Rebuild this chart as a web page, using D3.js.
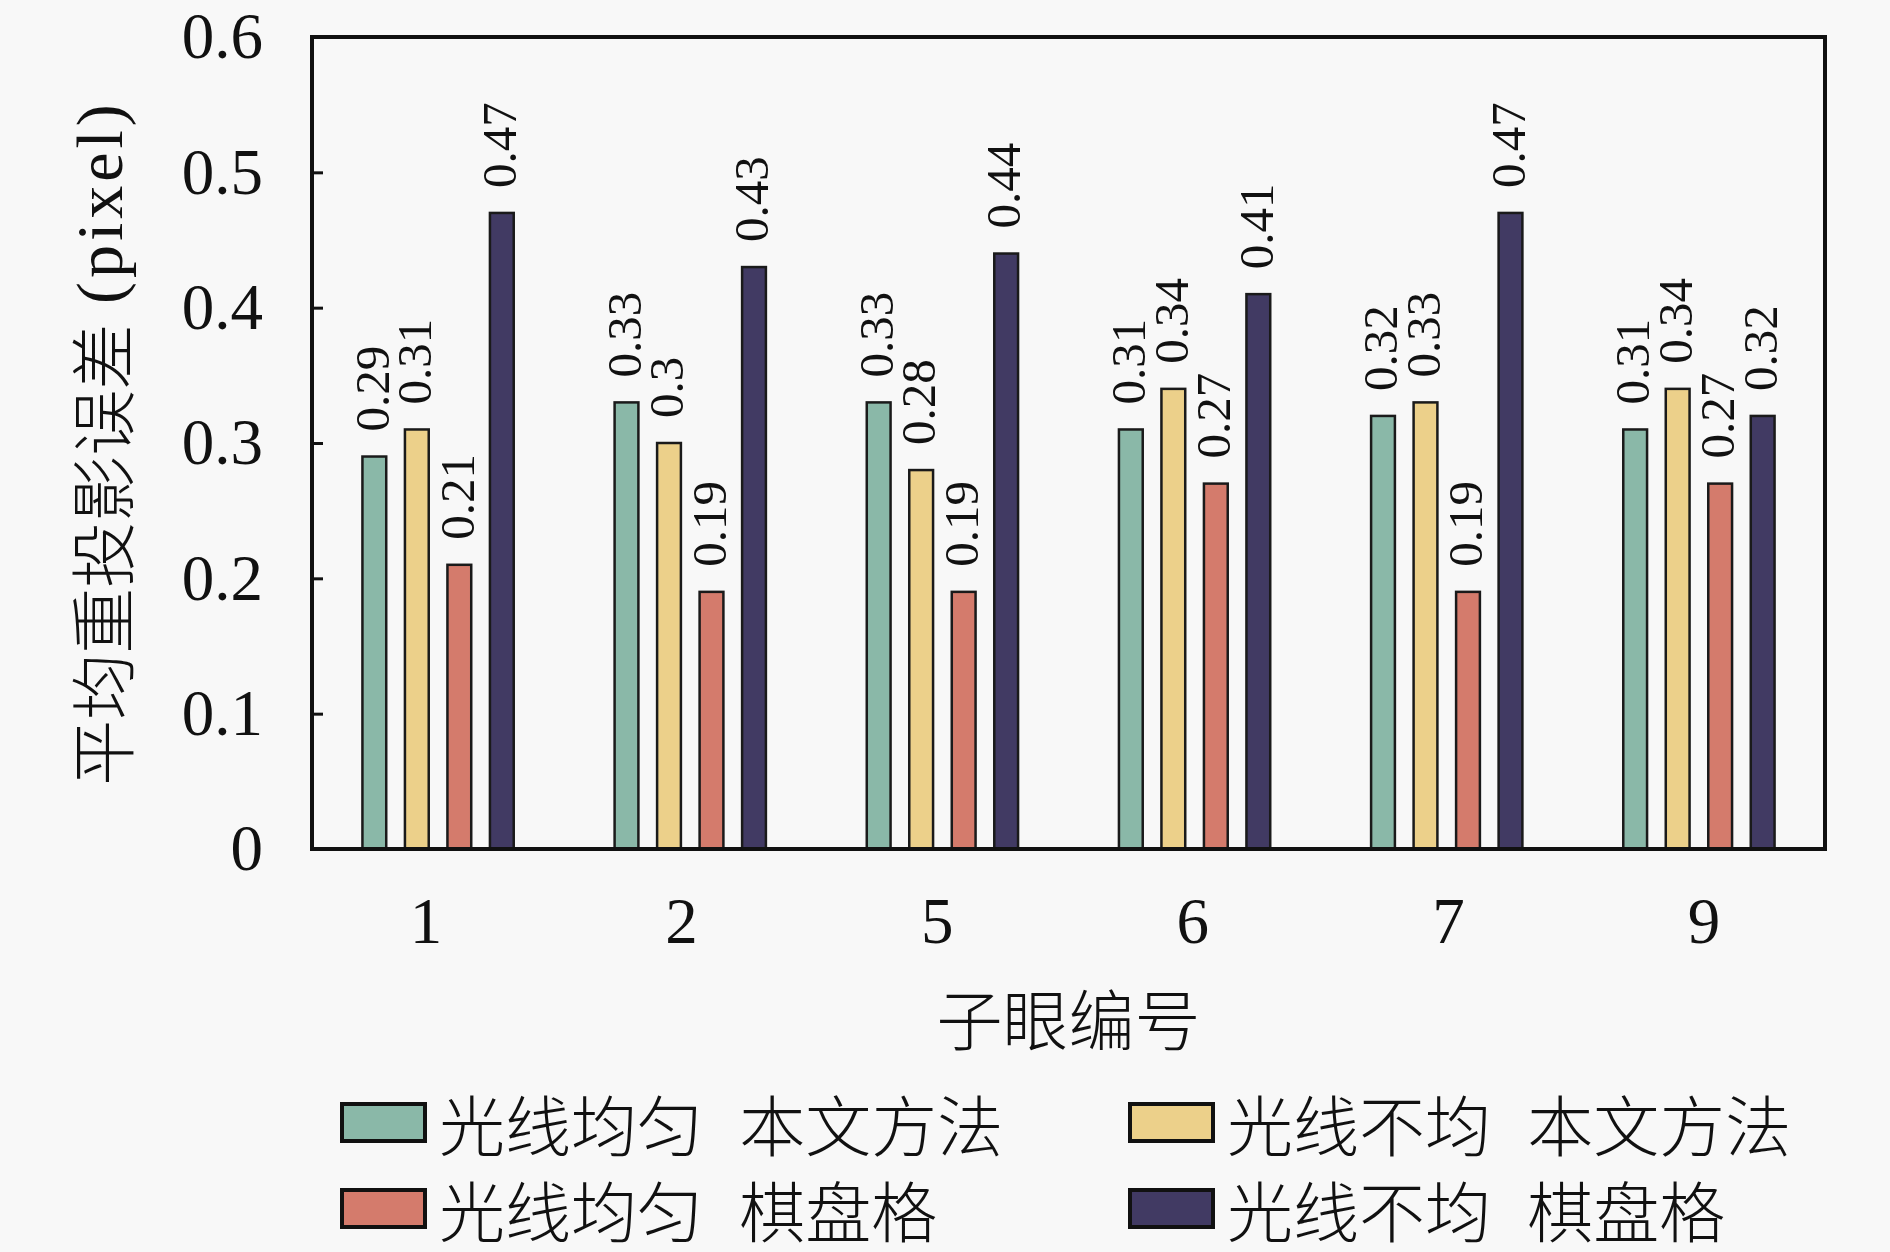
<!DOCTYPE html>
<html>
<head>
<meta charset="utf-8">
<script src="https://cdn.jsdelivr.net/npm/d3@7"></script>
<style>
  body { margin: 0; background: #f8f8f8; }
  svg { display: block; }
  text { font-family: "Liberation Serif", "Noto Sans CJK SC", serif; fill: #111; }
  .cjk { font-family: "Noto Sans CJK SC", "Liberation Serif", sans-serif; font-weight: 300; }
</style>
</head>
<body>
<script>
// sub-eye ids on the x axis
const subEyes = ["1", "2", "5", "6", "7", "9"];

// series names (legend) and bar colours
const seriesNames = ["光线均匀 本文方法", "光线不均 本文方法", "光线均匀 棋盘格", "光线不均 棋盘格"];
const seriesColors = ["#8ab8a8", "#ecd08a", "#d47b6c", "#413a63"];

// mean reprojection error per sub-eye (pixel)
const uniformOurs = [0.29, 0.33, 0.33, 0.31, 0.32, 0.31];
const nonUniformOurs = [0.31, 0.30, 0.28, 0.34, 0.33, 0.34];
const uniformBoard = [0.21, 0.19, 0.19, 0.27, 0.19, 0.27];
const nonUniformBoard = [0.47, 0.43, 0.44, 0.41, 0.47, 0.32];

const yTicks = [0, 0.1, 0.2, 0.3, 0.4, 0.5, 0.6];

const seriesValues = [uniformOurs, nonUniformOurs, uniformBoard, nonUniformBoard];

const width = 1890, height = 1252;
const plot = { left: 312, right: 1825, top: 37, bottom: 849 };

const svg = d3.select("body").append("svg")
    .attr("width", width)
    .attr("height", height);

svg.append("rect")
    .attr("width", width)
    .attr("height", height)
    .attr("fill", "#f8f8f8");

const x0 = d3.scaleBand()
    .domain(subEyes)
    .range([plot.left, plot.right]);

const x1 = d3.scaleBand()
    .domain(seriesNames)
    .range([-85, 85])
    .paddingInner(0.44)
    .paddingOuter(0.22);

// tick labels sit on a slightly wider spacing than the bar groups
const xLabel = d3.scalePoint()
    .domain(subEyes)
    .range([426, 1704]);

const y = d3.scaleLinear()
    .domain([0, 0.6])
    .range([plot.bottom, plot.top]);

// flatten to one record per bar
const bars = [];
subEyes.forEach((eye, i) => {
    seriesNames.forEach((s, j) => {
        bars.push({ eye: eye, series: s, value: seriesValues[j][i], color: seriesColors[j] });
    });
});

const g = svg.append("g");

g.selectAll("rect.bar")
    .data(bars)
    .join("rect")
    .attr("class", "bar")
    .attr("x", d => x0(d.eye) + x0.bandwidth() / 2 + x1(d.series))
    .attr("y", d => y(d.value))
    .attr("width", x1.bandwidth())
    .attr("height", d => y(0) - y(d.value))
    .attr("fill", d => d.color)
    .attr("stroke", "#1a1a1a")
    .attr("stroke-width", 2.5);

// rotated value labels above each bar
g.selectAll("text.val")
    .data(bars)
    .join("text")
    .attr("class", "val")
    .attr("transform", d => {
        const cx = x0(d.eye) + x0.bandwidth() / 2 + x1(d.series) + x1.bandwidth() / 2 - 2;
        return `translate(${cx},${y(d.value) - 25}) rotate(-90)`;
    })
    .attr("dy", "0.33em")
    .attr("font-family", "Liberation Serif")
    .attr("font-size", 49)
    .text(d => String(d.value));

// y axis with inward ticks
const yAxis = svg.append("g")
    .attr("transform", `translate(${plot.left},0)`)
    .call(d3.axisLeft(y)
        .tickValues(yTicks)
        .tickSize(-11)
        .tickPadding(49)
        .tickFormat(d => String(+d.toFixed(1))));
yAxis.select(".domain").remove();
yAxis.selectAll(".tick line").attr("stroke", "#111").attr("stroke-width", 3);
yAxis.selectAll(".tick text")
    .attr("font-size", 65)
    .attr("font-family", "Liberation Serif")
    .attr("fill", "#111");

// x tick labels
svg.append("g")
    .selectAll("text")
    .data(subEyes)
    .join("text")
    .attr("x", d => xLabel(d))
    .attr("y", 943)
    .attr("text-anchor", "middle")
    .attr("font-family", "Liberation Serif")
    .attr("font-size", 65)
    .text(d => d);

// frame
svg.append("rect")
    .attr("x", plot.left)
    .attr("y", plot.top)
    .attr("width", plot.right - plot.left)
    .attr("height", plot.bottom - plot.top)
    .attr("fill", "none")
    .attr("stroke", "#111")
    .attr("stroke-width", 4);

// axis titles
const yTitle = svg.append("text")
    .attr("transform", "translate(99,443) rotate(-90)")
    .attr("text-anchor", "middle")
    .attr("dominant-baseline", "central")
    .attr("font-size", 66);
yTitle.append("tspan").attr("class", "cjk").text("平均重投影误差");
yTitle.append("tspan")
    .attr("font-family", "Liberation Serif")
    .attr("font-weight", 400)
    .attr("dx", "0.3em")
    .attr("letter-spacing", "0.06em")
    .text("(pixel)");

svg.append("text")
    .attr("class", "cjk")
    .attr("x", (plot.left + plot.right) / 2)
    .attr("y", 1016)
    .attr("text-anchor", "middle")
    .attr("dominant-baseline", "central")
    .attr("font-size", 66)
    .text("子眼编号");

// legend, two columns
const legendCols = [342, 1130];
const legendRows = [1122, 1208];

const legend = svg.append("g")
    .selectAll("g")
    .data(seriesNames)
    .join("g")
    .attr("transform", (d, i) => `translate(${legendCols[i % 2]},${legendRows[Math.floor(i / 2)]})`);

legend.append("rect")
    .attr("x", 0)
    .attr("y", -18)
    .attr("width", 83)
    .attr("height", 37)
    .attr("fill", (d, i) => seriesColors[i])
    .attr("stroke", "#111")
    .attr("stroke-width", 4);

const legendText = legend.append("text")
    .attr("class", "cjk")
    .attr("x", 97)
    .attr("dominant-baseline", "central")
    .attr("font-size", 66);
legendText.append("tspan").text(d => d.split(" ")[0]);
legendText.append("tspan").attr("dx", "0.55em").text(d => d.split(" ")[1]);
</script>
</body>
</html>
